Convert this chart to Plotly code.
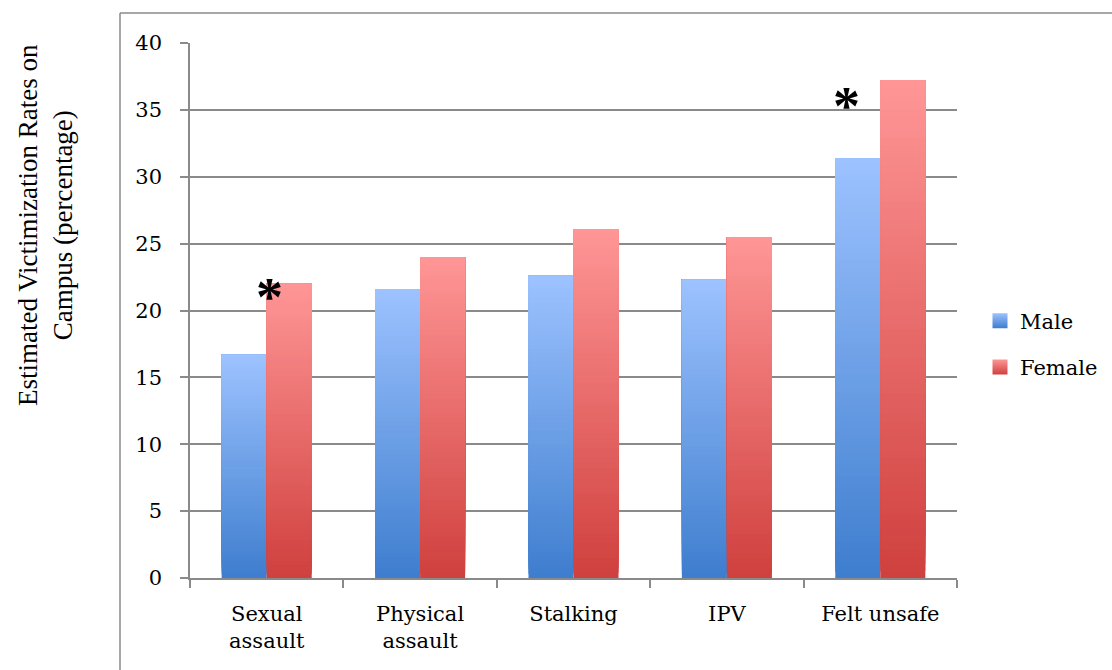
import plotly.graph_objects as go

categories = ["Sexual assault", "Physical assault", "Stalking", "IPV", "Felt unsafe"]
tick_labels = ["Sexual<br>assault", "Physical<br>assault", "Stalking", "IPV", "Felt unsafe"]
male = [16.7, 21.6, 22.6, 22.3, 31.4]
female = [22.0, 24.0, 26.1, 25.5, 37.2]
significant = ["Sexual assault", "Felt unsafe"]

W, H = 1112, 670
ML, MR, MT, MB = 190, 155, 43, 92
PW, PH = W - ML - MR, H - MT - MB

def px_x(p):
    return (p - ML) / PW

def px_y(p):
    return (H - MB - p) / PH

def lerp(c1, c2, t):
    return "rgb(%d,%d,%d)" % tuple(round(a + (b - a) * t) for a, b in zip(c1, c2))

N = 70
male_bot, male_top = (62, 126, 206), (157, 194, 255)
fem_bot, fem_top = (207, 64, 62), (255, 150, 150)

def gradient_bar(values, bot, top, group):
    # each layer spans from its start up to the bar top; later layers cover earlier ones
    xs, bases, ys, cols = [], [], [], []
    for cat, v in zip(categories, values):
        for k in range(N):
            xs.append(cat)
            bases.append(v * k / N)
            ys.append(v - v * k / N)
            cols.append(lerp(bot, top, (k + 0.5) / N))
    return go.Bar(x=xs, y=ys, base=bases, offsetgroup=group,
                  marker=dict(color=cols, line=dict(width=0)),
                  showlegend=False, hoverinfo="skip")

fig = go.Figure()
fig.add_trace(gradient_bar(male, male_bot, male_top, "m"))
fig.add_trace(gradient_bar(female, fem_bot, fem_top, "f"))

legend_font = dict(family="DejaVu Serif", size=21, color="black")
for name, top, bot, grp in [("Male", male_top, male_bot, "a"), ("Female", fem_top, fem_bot, "b")]:
    fig.add_trace(go.Scatter(x=[None], y=[None], mode="markers", name=name, legendgroup=grp,
                             marker=dict(symbol="square", size=15,
                                         color="rgb(%d,%d,%d)" % top,
                                         gradient=dict(type="vertical", color="rgb(%d,%d,%d)" % bot))))

grid = "#8a8a8a"
tick_font = dict(family="DejaVu Serif", size=21, color="black")

fig.update_layout(
    width=W, height=H,
    margin=dict(l=ML, r=MR, t=MT, b=MB, autoexpand=False),
    paper_bgcolor="white", plot_bgcolor="white",
    barmode="group", bargap=0.413, bargroupgap=0,
    showlegend=True,
    legend=dict(x=px_x(980), xanchor="left", y=px_y(344), yanchor="middle",
                font=legend_font, tracegroupgap=16, bgcolor="rgba(0,0,0,0)",
                itemwidth=30),
    xaxis=dict(type="category", categoryorder="array", categoryarray=categories,
               tickvals=categories, ticktext=tick_labels,
               showline=True, linecolor=grid, linewidth=1.5,
               ticks="outside", tickson="boundaries", ticklen=8, tickcolor=grid, tickwidth=1.5,
               showgrid=False, tickfont=tick_font, ticklabelstandoff=16, automargin=False),
    yaxis=dict(range=[0, 40], dtick=5, showgrid=True, gridcolor=grid, gridwidth=1.5,
               showline=True, linecolor=grid, linewidth=1.5, zeroline=False,
               ticks="outside", ticklen=8, tickcolor=grid, tickwidth=1.5,
               tickfont=tick_font, ticklabelstandoff=14, automargin=False),
)

# y-axis title placed outside the chart frame
fig.add_annotation(text="Estimated Victimization Rates on<br>Campus (percentage)",
                   xref="paper", yref="paper", x=px_x(46), y=px_y(225),
                   xanchor="center", yanchor="middle", textangle=-90, showarrow=False,
                   font=dict(family="Liberation Serif", size=27, color="black"))

# significance markers
star_offsets = {"Sexual assault": (3, -13), "Felt unsafe": (-34, -26)}
for cat in significant:
    i = categories.index(cat)
    dx, dy = star_offsets[cat]
    fig.add_annotation(text="<b>*</b>", x=cat, y=female[i], xref="x", yref="y",
                       xanchor="center", yanchor="middle", xshift=dx, yshift=dy,
                       showarrow=False,
                       font=dict(family="Liberation Serif", size=54, color="black"))

# chart frame (left and top edges)
fig.add_shape(type="line", xref="paper", yref="paper", x0=px_x(120), x1=px_x(120),
              y0=px_y(13), y1=px_y(690), line=dict(color=grid, width=1.5))
fig.add_shape(type="line", xref="paper", yref="paper", x0=px_x(120), x1=px_x(1130),
              y0=px_y(13), y1=px_y(13), line=dict(color=grid, width=1.5))

fig.write_html("out.html", config={"displayModeBar": False},
               post_script="document.body.style.margin='0';")
